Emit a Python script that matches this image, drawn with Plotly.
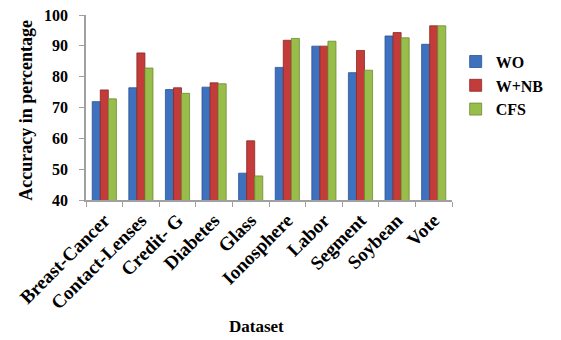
import plotly.graph_objects as go

datasets = ["Breast-Cancer", "Contact-Lenses", "Credit- G", "Diabetes", "Glass",
            "Ionosphere", "Labor", "Segment", "Soybean", "Vote"]
wo = [71.9, 76.4, 75.8, 76.6, 48.7, 83.0, 89.9, 81.3, 93.2, 90.5]
w_nb = [75.7, 87.7, 76.4, 78.0, 59.2, 91.8, 89.9, 88.5, 94.3, 96.5]
cfs = [72.8, 82.8, 74.6, 77.7, 47.8, 92.4, 91.5, 82.1, 92.6, 96.5]

series = [("WO", wo, "#3F72BE", "#2B5290"),
          ("W+NB", w_nb, "#C33C39", "#8A2826"),
          ("CFS", cfs, "#98BD4B", "#6C8A33")]

font_family = "Liberation Serif, Times New Roman, serif"

fig = go.Figure()
for name, vals, col, edge in series:
    fig.add_trace(go.Bar(
        x=datasets, y=vals, name=name,
        marker=dict(color=col, line=dict(color=edge, width=0.8)),
    ))

fig.update_layout(
    width=561, height=340,
    margin=dict(l=86, r=93, t=15, b=140),
    paper_bgcolor="white", plot_bgcolor="white",
    barmode="group", bargap=0.34, bargroupgap=0,
    font=dict(family=font_family, color="black"),
    showlegend=True,
    legend=dict(x=1.01, y=0.84, xanchor="left", yanchor="top",
                font=dict(size=16, family=font_family, color="black", weight="bold"),
                itemwidth=30, tracegroupgap=0, bgcolor="rgba(0,0,0,0)"),
    xaxis=dict(
        type="category", tickangle=-45, tickson="boundaries",
        ticks="outside", ticklen=5, tickcolor="#A0A0A0",
        showline=True, linecolor="#A0A0A0", linewidth=1.5,
        showgrid=False, automargin=False,
        tickfont=dict(size=19, family=font_family, color="black", weight="bold"),
    ),
    yaxis=dict(
        range=[40, 100], dtick=10, tick0=40,
        ticks="outside", ticklen=5, tickcolor="#A0A0A0",
        showline=True, linecolor="#A0A0A0", linewidth=1.5,
        showgrid=False, zeroline=False, automargin=False,
        tickfont=dict(size=16, family=font_family, color="black", weight="bold"),
        ticklabelstandoff=8,
    ),
    annotations=[
        dict(text="<b>Dataset</b>", xref="paper", yref="paper",
             x=(264 - 86) / 382, y=-(326 - 200) / 185, xanchor="center", yanchor="middle",
             showarrow=False, font=dict(size=17, family=font_family, color="black")),
        dict(text="<b>Accuracy in percentage</b>", xref="paper", yref="paper",
             x=-(86 - 23) / 382, y=(200 - 110) / 185, xanchor="center", yanchor="middle",
             textangle=-90, showarrow=False,
             font=dict(size=18, family=font_family, color="black")),
    ],
)

fig.write_html("out.html", config={"displayModeBar": False},
               post_script="document.body.style.margin='0';")
